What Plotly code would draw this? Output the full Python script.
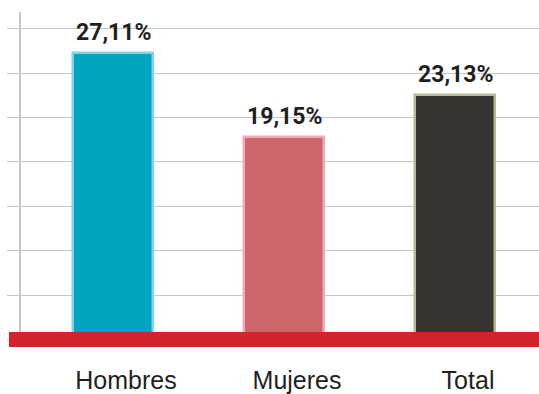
import plotly.graph_objects as go

# Share values by group
categories = ["Hombres", "Mujeres", "Total"]
values = [27.11, 19.15, 23.13]
value_labels = ["27,11%", "19,15%", "23,13%"]

fill_colors = ["#00a6c0", "#cc666a", "#383432"]
edge_colors = ["#80d4e6", "#f2a8b6", "#b9b996"]

fig = go.Figure()
fig.add_trace(go.Bar(
    x=categories,
    y=values,
    width=0.468,
    marker=dict(color=fill_colors, line=dict(color=edge_colors, width=2.5)),
    hoverinfo="skip",
))

# Value labels above each bar
for cat, val, lab in zip(categories, values, value_labels):
    fig.add_annotation(
        x=cat, y=val, text=lab, showarrow=False,
        xanchor="center", yanchor="bottom", yshift=5,
        font=dict(family="Roboto, sans-serif", size=23, color="#231f20", weight="bold"),
    )

# Red baseline band
fig.add_shape(
    type="rect", xref="paper", yref="y",
    x0=-12 / 518, x1=1, y0=-0.705, y1=0.705,
    fillcolor="#d1252b", line=dict(width=0), layer="above",
)

fig.update_layout(
    width=539, height=394,
    margin=dict(l=21, r=0, t=12, b=45),
    paper_bgcolor="white", plot_bgcolor="white",
    showlegend=False,
    bargap=0,
    xaxis=dict(
        range=[-0.538, 2.491],
        showgrid=False, zeroline=False, showline=False,
        ticks="", ticklabelshift=13, ticklabelstandoff=16,
        tickfont=dict(family="Liberation Sans, Arial, sans-serif", size=25, color="#231f20"),
        fixedrange=True,
    ),
    yaxis=dict(
        range=[-0.705, 30.97],
        tick0=0, dtick=4.2,
        showgrid=True, gridcolor="#c6c6c6", gridwidth=1,
        zeroline=False,
        showline=True, linecolor="#c6c6c6", linewidth=1.5,
        ticks="outside", ticklen=12, tickcolor="#c6c6c6", tickwidth=1,
        showticklabels=False,
        fixedrange=True,
    ),
)

fig.write_html("out.html")
